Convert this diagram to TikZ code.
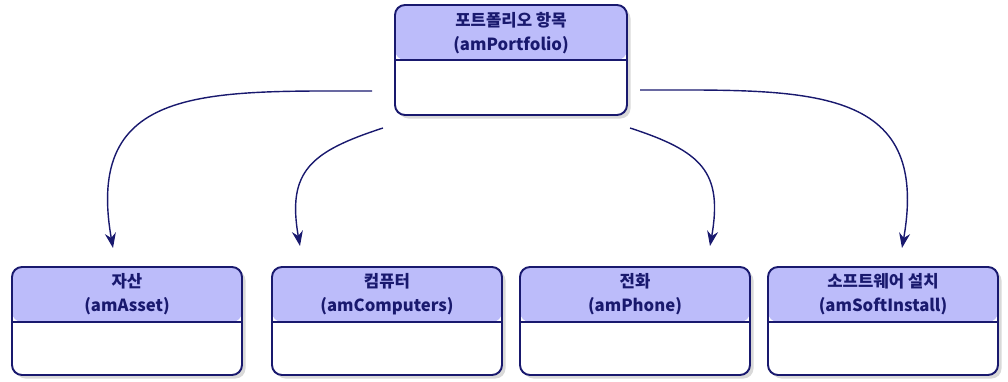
\documentclass[tikz,border=0pt]{standalone}
\usepackage{fontspec}
\newfontfamily\krfont{Noto Sans CJK KR}
\usetikzlibrary{arrows.meta,shadows,positioning}
\definecolor{navy}{RGB}{25,25,110}
\definecolor{headfill}{RGB}{188,188,250}

\begin{document}
\begin{tikzpicture}[x=0.2mm, y=0.2mm,
    box/.style={draw=navy, line width=1.1pt, rounded corners=2mm, fill=white,
      minimum width=46mm, minimum height=21.6mm, inner sep=0pt,
      drop shadow={opacity=0.3, shadow xshift=0.7mm, shadow yshift=-0.7mm},
      path picture={
        \fill[headfill] ([yshift=-11mm]path picture bounding box.north west) rectangle (path picture bounding box.north east);
        \draw[navy, line width=1.1pt] ([yshift=-11mm]path picture bounding box.north west) -- ([yshift=-11mm]path picture bounding box.north east);
      }},
    title/.style={text=navy, font=\krfont\bfseries\fontsize{9.5}{13.5}\selectfont, align=center},
    link/.style={draw=navy, line width=0.8pt, -{Stealth[length=3mm, width=2.2mm]}}]

  \useasboundingbox (0,0) rectangle (1008,381);

  % table boxes
  \node[box, minimum width=46.4mm, minimum height=22mm] (portfolio) at (511,321) {};
  \node[box] (asset) at (127,60) {};
  \node[box] (computer) at (387,60) {};
  \node[box] (phone) at (635,60) {};
  \node[box] (softinstall) at (883,60) {};

  % headers
  \node[title] (portfolio title) at ([yshift=-5.8mm]portfolio.north) {포트폴리오 항목\\(amPortfolio)};
  \node[title] (asset title) at ([yshift=-5.6mm]asset.north) {자산\\(amAsset)};
  \node[title] (computer title) at ([yshift=-5.6mm]computer.north) {컴퓨터\\(amComputers)};
  \node[title] (phone title) at ([yshift=-5.6mm]phone.north) {전화\\(amPhone)};
  \node[title] (softinstall title) at ([yshift=-5.6mm]softinstall.north) {소프트웨어 설치\\(amSoftInstall)};

  % link ends
  \coordinate (s1) at (372,290);
  \coordinate (s2) at (383,253);
  \coordinate (s3) at (630,253);
  \coordinate (s4) at (640,291);
  \coordinate (e1) at (113,133);
  \coordinate (e2) at (300,135);
  \coordinate (e3) at (710,135);
  \coordinate (e4) at (902,133);

  \draw[link] (s1) to[out=180, in=100, looseness=1.4] (e1);
  \draw[link] (s2) to[out=198, in=100, looseness=1.35] (e2);
  \draw[link] (s3) to[out=-18, in=80, looseness=1.35] (e3);
  \draw[link] (s4) to[out=0, in=80, looseness=1.4] (e4);
\end{tikzpicture}
\end{document}
